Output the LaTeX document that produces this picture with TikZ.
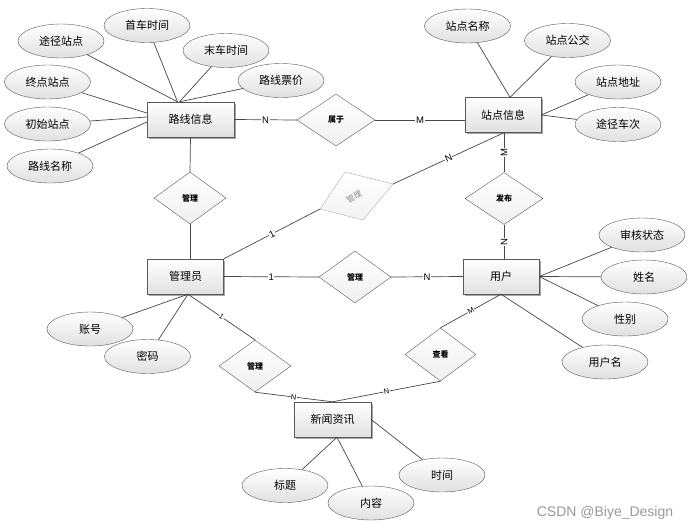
\documentclass[tikz,border=0pt]{standalone}
\usepackage{fontspec}
\setmainfont{Noto Sans CJK SC}
\newfontfamily\latinfont{Liberation Sans}
\usetikzlibrary{shapes.geometric,shadows}
\begin{document}
\begin{tikzpicture}[x=1pt,y=-1pt,
 ent/.style={draw=black!65, rectangle, minimum width=76pt, minimum height=35pt, inner sep=0pt,
   top color=white, bottom color=black!12,
   drop shadow={shadow xshift=1.5pt,shadow yshift=-1.5pt,opacity=0.35,fill=black},
   font=\fontsize{11}{13}\selectfont},
 attr/.style={draw=black!65, ellipse, minimum width=86pt, minimum height=34pt, inner sep=0pt,
   top color=white, bottom color=black!12, font=\fontsize{11}{13}\selectfont},
 rel/.style={draw=black!65, diamond, minimum width=72pt, minimum height=52pt, inner sep=0pt,
   top color=white, bottom color=black!6, font=\bfseries\fontsize{8}{9}\selectfont},
 ln/.style={draw=black!72, line width=0.7pt},
 card/.style={fill=white, inner sep=0.6pt, font=\latinfont\fontsize{9.5}{10}\selectfont},
 cards/.style={fill=white, inner sep=0.4pt, font=\latinfont\fontsize{7.5}{8}\selectfont}]
\useasboundingbox (0,0) rectangle (694,531);

% entities
\node[ent, minimum width=87pt] (route) at (190.5,119.5) {路线信息};
\node[ent] (station) at (503,115) {站点信息};
\node[ent] (admin) at (185.5,276.5) {管理员};
\node[ent] (user) at (501,276.5) {用户};
\node[ent, minimum width=77pt] (news) at (332.5,419.5) {新闻资讯};

% attributes
\node[attr] (a1) at (61,41) {途径站点};
\node[attr] (a2) at (147,25.5) {首车时间};
\node[attr] (a3) at (226,50.5) {末车时间};
\node[attr] (a4) at (281,80.5) {路线票价};
\node[attr] (a5) at (47.5,82) {终点站点};
\node[attr] (a6) at (47.5,124) {初始站点};
\node[attr] (a7) at (50,166) {路线名称};
\node[attr] (s1) at (467.5,26) {站点名称};
\node[attr] (s2) at (567.5,40.5) {站点公交};
\node[attr] (s3) at (618,82) {站点地址};
\node[attr] (s4) at (618,124.5) {途径车次};
\node[attr] (u1) at (642,235) {审核状态};
\node[attr] (u2) at (644,277) {姓名};
\node[attr] (u3) at (625,319) {性别};
\node[attr] (u4) at (605,362) {用户名};
\node[attr] (m1) at (90,329) {账号};
\node[attr] (m2) at (147.5,356.5) {密码};
\node[attr] (n1) at (285,485.5) {标题};
\node[attr] (n2) at (371,503) {内容};
\node[attr] (n3) at (442,475) {时间};

% relationships
\node[rel, minimum width=78pt] (r1) at (336,120) {属于};
\node[rel] (r2) at (190,198) {管理};
\node[rel, minimum width=78pt] (r3) at (504,198.5) {发布};
\node[rel] (r4) at (355,277) {管理};
\node[rel] (r5) at (255,366) {管理};
\node[rel, minimum width=71pt, minimum height=53pt] (r6) at (440.5,354.5) {查看};

% grey rotated relationship
\coordinate (gt) at (345,172);
\coordinate (gr) at (393,184);
\coordinate (gb) at (363,220);
\coordinate (gl) at (320,209);
\draw[draw=black!30, top color=white, bottom color=black!5] (gt) -- (gr) -- (gb) -- (gl) -- cycle;
\node[rotate=30, text=black!45, font=\fontsize{8}{9}\selectfont] (gtext) at (354,197) {管理};

% anchor points
\coordinate (rtop1) at ([xshift=-13pt]route.north);
\coordinate (rtop2) at ([xshift=-11pt]route.north);
\coordinate (rw1) at ([yshift=6.5pt]route.west);
\coordinate (rw2) at ([yshift=2.5pt]route.west);
\coordinate (rw3) at ([yshift=-2.5pt]route.west);
\coordinate (stop) at ([xshift=7pt]station.north);
\coordinate (asouth) at ([xshift=2.5pt]admin.south);
\coordinate (nsouth) at ([xshift=4.5pt]news.south);

% route attribute connectors
\draw[ln] (a1) -- (rtop1);
\draw[ln] (a2) -- (rtop1);
\draw[ln] (a3) -- (rtop2);
\draw[ln] (a4) -- (rtop2);
\draw[ln] (a5) -- (rw1);
\draw[ln] (a6) -- (rw2);
\draw[ln] (a7) -- (rw3);

% station attribute connectors
\draw[ln] (s1) -- (stop);
\draw[ln] (s2) -- (stop);
\draw[ln] (s3) -- (station.east);
\draw[ln] (s4) -- (station.east);

% user attribute connectors
\draw[ln] (u1) -- (user.east);
\draw[ln] (u2) -- (user.east);
\draw[ln] (u3) -- (user.east);
\draw[ln] (u4) -- (user.south);

% admin attribute connectors
\draw[ln] (m1) -- (asouth);
\draw[ln] (m2) -- (asouth);

% news attribute connectors
\draw[ln] (n1) -- (nsouth);
\draw[ln] (n2) -- (nsouth);
\draw[ln] (n3) -- (news.east);

% relationship connectors
\draw[ln] (route.east) -- node[card]{N} (r1.west);
\draw[ln] (r1.east) -- node[card]{M} (r1.east -| station.west);
\draw[ln] (r3.north |- station.south) -- node[card,rotate=90]{M} (r3.north);
\draw[ln] (r3.north |- station.south) -- node[card,sloped]{N} (gr);
\draw[ln] (r3.south) -- node[card,rotate=90]{N} (r3.south |- user.north);
\draw[ln] (route.south) -- (r2.north);
\draw[ln] (r2.south) -- (r2.south |- admin.north);
\draw[ln] (admin.north east) -- node[card,sloped]{1} (gl);
\draw[ln] (admin.east) -- node[card]{1} (r4.west);
\draw[ln] (r4.east) -- node[card]{N} (user.west);
\draw[ln] (asouth) -- node[cards,sloped]{1} (r5.north);
\draw[ln] (r5.south) -- node[cards,sloped]{N} (news.north);
\draw[ln] (r6.south) -- node[cards,sloped]{N} (news.north);
\draw[ln] (user.south) -- node[cards,sloped]{M} (r6.north);

% watermark
\node[text=black!40, font=\latinfont\fontsize{14}{16}\selectfont] (wm) at (605,512.5) {CSDN @Biye\_Design};
\end{tikzpicture}
\end{document}
